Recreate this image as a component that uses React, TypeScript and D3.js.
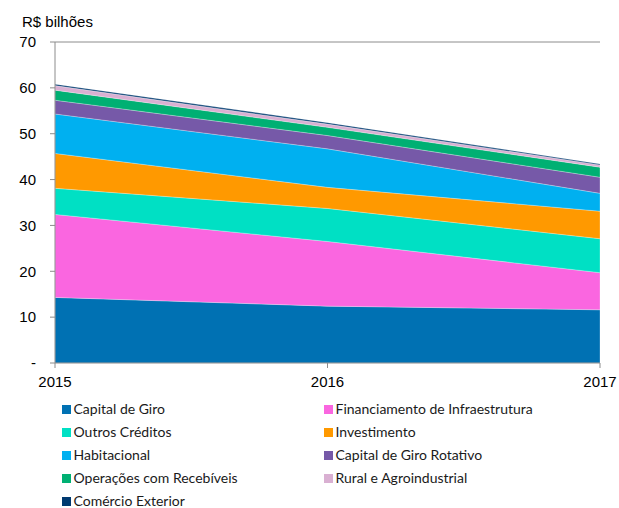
import React from "react";
import * as d3 from "d3";

const years = [2015, 2016, 2017];
const seriesNames = [
  "Capital de Giro",
  "Financiamento de Infraestrutura",
  "Outros Créditos",
  "Investimento",
  "Habitacional",
  "Capital de Giro Rotativo",
  "Operações com Recebíveis",
  "Rural e Agroindustrial",
  "Comércio Exterior",
];
const capitalDeGiro = [14.3, 12.4, 11.6];
const financiamentoInfra = [18.1, 14.1, 8.1];
const outrosCreditos = [5.7, 7.2, 7.4];
const investimento = [7.6, 4.6, 6.0];
const habitacional = [8.6, 8.4, 3.9];
const capitalGiroRotativo = [3.0, 2.9, 3.5];
const operacoesRecebiveis = [2.2, 1.8, 2.2];
const ruralAgro = [1.0, 0.7, 0.5];
const comercioExterior = [0.3, 0.3, 0.2];
const yTicks = [0, 10, 20, 30, 40, 50, 60, 70];
const yTickLabels = ["-", "10", "20", "30", "40", "50", "60", "70"];
const colors = [
  "#0071B3",
  "#FA66E0",
  "#00E0C4",
  "#FF9900",
  "#00B0F0",
  "#7659A8",
  "#00B073",
  "#D9B0D2",
  "#003A70",
];

const allSeries = [
  capitalDeGiro,
  financiamentoInfra,
  outrosCreditos,
  investimento,
  habitacional,
  capitalGiroRotativo,
  operacoesRecebiveis,
  ruralAgro,
  comercioExterior,
];

export default function App() {
  const W = 619;
  const H = 508;
  const left = 55;
  const right = 600;
  const top = 42;
  const bottom = 363;

  const x = d3.scaleLinear().domain([2015, 2017]).range([left, right]);
  const y = d3.scaleLinear().domain([0, 70]).range([bottom, top]);

  const table = years.map((yr, i) => {
    const row: any = { year: yr };
    seriesNames.forEach((n, k) => (row[n] = allSeries[k][i]));
    return row;
  });
  const stack = d3.stack().keys(seriesNames)(table as any);
  const area = d3
    .area<any>()
    .x((d) => x(d.data.year))
    .y0((d) => y(d[0]))
    .y1((d) => y(d[1]));

  const axisColor = "#8c8c8c";
  const axisFont = "'Liberation Sans', Arial, sans-serif";
  const legendFont = "Lato, 'Open Sans', sans-serif";

  return (
    <svg
      width={W}
      height={H}
      style={{ position: "absolute", left: 0, top: 0, background: "#fff" }}
    >
      <text x={22} y={27} fontFamily={axisFont} fontSize={15} fill="#000">
        R$ bilhões
      </text>
      {stack.map((s, i) => (
        <path
          key={i}
          d={area(s as any) || ""}
          fill={colors[i]}
          stroke="rgba(255,255,255,0.45)"
          strokeWidth={0.6}
        />
      ))}
      <line x1={left} x2={right} y1={y(70)} y2={y(70)} stroke={axisColor} strokeWidth={1} />
      <line x1={left} x2={left} y1={top} y2={bottom} stroke={axisColor} strokeWidth={1} />
      <line x1={left} x2={right} y1={bottom} y2={bottom} stroke={axisColor} strokeWidth={1} />
      {yTicks.map((t, i) => (
        <g key={t}>
          <line x1={left - 5} x2={left} y1={y(t)} y2={y(t)} stroke={axisColor} />
          <text
            x={36}
            y={y(t)}
            dy="0.35em"
            textAnchor="end"
            fontFamily={axisFont}
            fontSize={15}
            fill="#000"
          >
            {yTickLabels[i]}
          </text>
        </g>
      ))}
      {years.map((yr) => (
        <g key={yr}>
          <line x1={x(yr)} x2={x(yr)} y1={bottom} y2={bottom + 5} stroke={axisColor} />
          <text
            x={x(yr)}
            y={387}
            textAnchor="middle"
            fontFamily={axisFont}
            fontSize={15}
            fill="#000"
          >
            {yr}
          </text>
        </g>
      ))}
      {seriesNames.map((n, i) => {
        const col = i % 2;
        const row = Math.floor(i / 2);
        const lx = col === 0 ? 62 : 324;
        const ly = 409.5 + row * 23;
        return (
          <g key={n}>
            <rect x={lx} y={ly - 4.5} width={9} height={9} fill={colors[i]} />
            <text
              x={lx + 11.5}
              y={ly}
              dy="0.35em"
              fontFamily={legendFont}
              fontSize={14}
              fill="#1a1a1a"
            >
              {n}
            </text>
          </g>
        );
      })}
    </svg>
  );
}
